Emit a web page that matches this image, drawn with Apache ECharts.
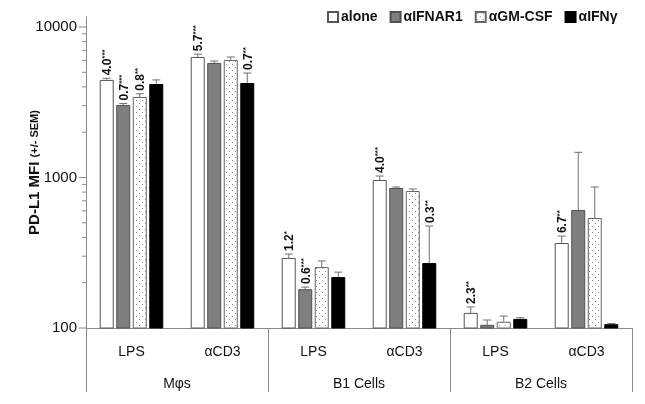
<!DOCTYPE html>
<html>
<head>
<meta charset="utf-8">
<script src="https://cdn.jsdelivr.net/npm/echarts@6/dist/echarts.min.js"></script>
<style>
html,body{margin:0;padding:0;background:#fff;}
#chart{width:645px;height:404px;}
</style>
</head>
<body>
<div id="chart"></div>
<script>
// ---- data ----
const categories = ['LPS', 'αCD3', 'LPS', 'αCD3', 'LPS', 'αCD3'];
const groups = ['Mφs', 'B1 Cells', 'B2 Cells'];
const seriesNames = ['alone', 'αIFNAR1', 'αGM-CSF', 'αIFNγ'];

const alone      = [4450, 6320, 292, 962, 126, 367];
const aloneErr   = [4560, 6600, 310, 1023, 138, 408];
const ifnar      = [3034, 5770, 181, 851, 105, 608];
const ifnarErr   = [3100, 5940, 187, 865, 113, 1470];
const gmcsf      = [3427, 6040, 254, 813, 110, 538];
const gmcsfErr   = [3600, 6320, 279, 839, 120, 865];
const ifng       = [4180, 4245, 218, 270, 115, 106];
const ifngErr    = [4450, 4945, 235, 476, 117, 107];

// annotation: [number, stars]
const aloneLbl = [['4.0', '***'], ['5.7', '***'], ['1.2', '*'], ['4.0', '***'], ['2.3', '**'], ['6.7', '**']];
const ifnarLbl = [['0.7', '***'], null, ['0.6', '***'], null, null, null];
const gmcsfLbl = [['0.8', '**'], null, null, null, null, null];
const ifngLbl  = [null, ['0.7', '**'], null, ['0.3', '**'], null, null];

const yMajorTicks = [100, 1000, 10000];
const yMinorTicks = [200, 300, 400, 500, 600, 700, 800, 900, 2000, 3000, 4000, 5000, 6000, 7000, 8000, 9000];

// ---- styling ----
const FONT = '"Liberation Sans", Arial, sans-serif';
const BAR_W = 14;
const GAP = 0.18;
const AXIS_COLOR = '#8a8a8a';

function dotPattern() {
  const c = document.createElement('canvas');
  c.width = 6; c.height = 6;
  const g = c.getContext('2d');
  g.fillStyle = '#ffffff';
  g.fillRect(0, 0, 6, 6);
  g.fillStyle = '#8c8c8c';
  g.fillRect(1, 1, 1, 1);
  g.fillRect(4, 4, 1, 1);
  return c;
}

const values = [alone, ifnar, gmcsf, ifng];
const errs = [aloneErr, ifnarErr, gmcsfErr, ifngErr];
const lbls = [aloneLbl, ifnarLbl, gmcsfLbl, ifngLbl];
const fills = ['#ffffff', '#7f7f7f', { image: dotPattern(), repeat: 'repeat' }, '#000000'];
const borders = ['#555555', '#505050', '#666666', '#000000'];

const chart = echarts.init(document.getElementById('chart'), null, { renderer: 'canvas' });

const series = [];
seriesNames.forEach((name, k) => {
  series.push({
    name: name,
    type: 'bar',
    barWidth: BAR_W,
    barGap: (GAP * 100) + '%',
    clip: true,
    data: values[k],
    itemStyle: { color: fills[k], borderColor: borders[k], borderWidth: 1 },
    z: 2
  });
});

seriesNames.forEach((name, k) => {
  series.push({
    type: 'custom',
    coordinateSystem: 'cartesian2d',
    clip: false,
    z: 5,
    silent: true,
    encode: { x: 0, y: 1 },
    data: values[k].map((v, i) => [i, v, errs[k][i]]),
    renderItem: function (params, api) {
      const i = api.value(0);
      const v = api.value(1);
      const e = api.value(2);
      const off = (k - 1.5) * BAR_W * (1 + GAP);
      const p0 = api.coord([i, v]);
      const p1 = api.coord([i, e]);
      const x = p0[0] + off;
      const children = [];
      if (p0[1] - p1[1] > 0.5) {
        children.push({ type: 'line', shape: { x1: x, y1: p0[1], x2: x, y2: p1[1] },
          style: { stroke: '#707070', lineWidth: 1 } });
        children.push({ type: 'line', shape: { x1: x - 4, y1: p1[1], x2: x + 4, y2: p1[1] },
          style: { stroke: '#707070', lineWidth: 1 } });
      }
      const lb = lbls[k][params.dataIndex];
      if (lb) {
        children.push({
          type: 'text',
          x: x + 1,
          y: Math.min(p1[1], p0[1]) - 3,
          rotation: Math.PI / 2,
          style: {
            text: '{a|' + lb[0] + '}{s|' + lb[1] + '}',
            align: 'left',
            verticalAlign: 'middle',
            fill: '#111',
            rich: {
              a: { fontSize: 12, fontWeight: 'bold', fontFamily: FONT, fill: '#111', lineHeight: 13 },
              s: { fontSize: 8, fontWeight: 'bold', fontFamily: FONT, fill: '#111', verticalAlign: 'top', lineHeight: 13 }
            }
          }
        });
      }
      return { type: 'group', children: children };
    }
  });
});

// y-axis ticks (major + minor at 2..9 of each decade)
const tickData = yMajorTicks.map(v => [0, v, 1]).concat(yMinorTicks.map(v => [0, v, 0]));
series.push({
  type: 'custom',
  coordinateSystem: 'cartesian2d',
  clip: false,
  silent: true,
  z: 6,
  encode: { x: 0, y: 1 },
  data: tickData,
  renderItem: function (params, api) {
    const p = api.coord([0, api.value(1)]);
    const left = params.coordSys.x;
    const len = api.value(2) ? 7 : 4;
    return { type: 'line', shape: { x1: left - len, y1: p[1], x2: left, y2: p[1] },
      style: { stroke: AXIS_COLOR, lineWidth: 1 } };
  }
});

const option = {
  animation: false,
  backgroundColor: '#ffffff',
  grid: { left: 86, right: 13, top: 17, bottom: 76, containLabel: false },
  legend: {
    data: seriesNames,
    left: 322,
    top: 5,
    icon: 'rect',
    itemWidth: 10,
    itemHeight: 10,
    itemGap: 12,
    textStyle: { fontFamily: FONT, fontSize: 14, fontWeight: 'bold', color: '#111', padding: [0, 0, 0, -2] }
  },
  xAxis: [
    {
      type: 'category',
      data: categories,
      position: 'bottom',
      axisLine: { show: true, lineStyle: { color: AXIS_COLOR, width: 1 } },
      axisTick: { show: false },
      axisLabel: { interval: 0, margin: 17, fontFamily: FONT, fontSize: 14, color: '#111' },
      splitLine: { show: false }
    },
    {
      type: 'category',
      data: groups,
      position: 'bottom',
      axisLine: { show: false },
      axisTick: { show: true, length: 64, interval: 0, lineStyle: { color: AXIS_COLOR, width: 1 } },
      axisLabel: { interval: 0, margin: 49, fontFamily: FONT, fontSize: 14, color: '#111' },
      splitLine: { show: false }
    }
  ],
  yAxis: {
    type: 'log',
    logBase: 10,
    min: 100,
    max: 11650,
    name: '{a|PD-L1 MFI }{b|(+/- SEM)}',
    nameLocation: 'middle',
    nameRotate: 90,
    nameGap: 44,
    nameMoveOverlap: false,
    nameTextStyle: {
      rich: {
        a: { fontFamily: FONT, fontSize: 15, fontWeight: 'bold', color: '#111' },
        b: { fontFamily: FONT, fontSize: 11, fontWeight: 'bold', color: '#111' }
      }
    },
    axisLine: { show: true, lineStyle: { color: AXIS_COLOR, width: 1 } },
    axisTick: { show: false },
    axisLabel: {
      showMaxLabel: false, margin: 9, fontFamily: FONT, fontSize: 15, color: '#111',
      formatter: function (v) { return String(Math.round(v)); }
    },
    splitLine: { show: false },
    minorTick: { show: false }
  },
  series: series
};

chart.setOption(option);
</script>
</body>
</html>
